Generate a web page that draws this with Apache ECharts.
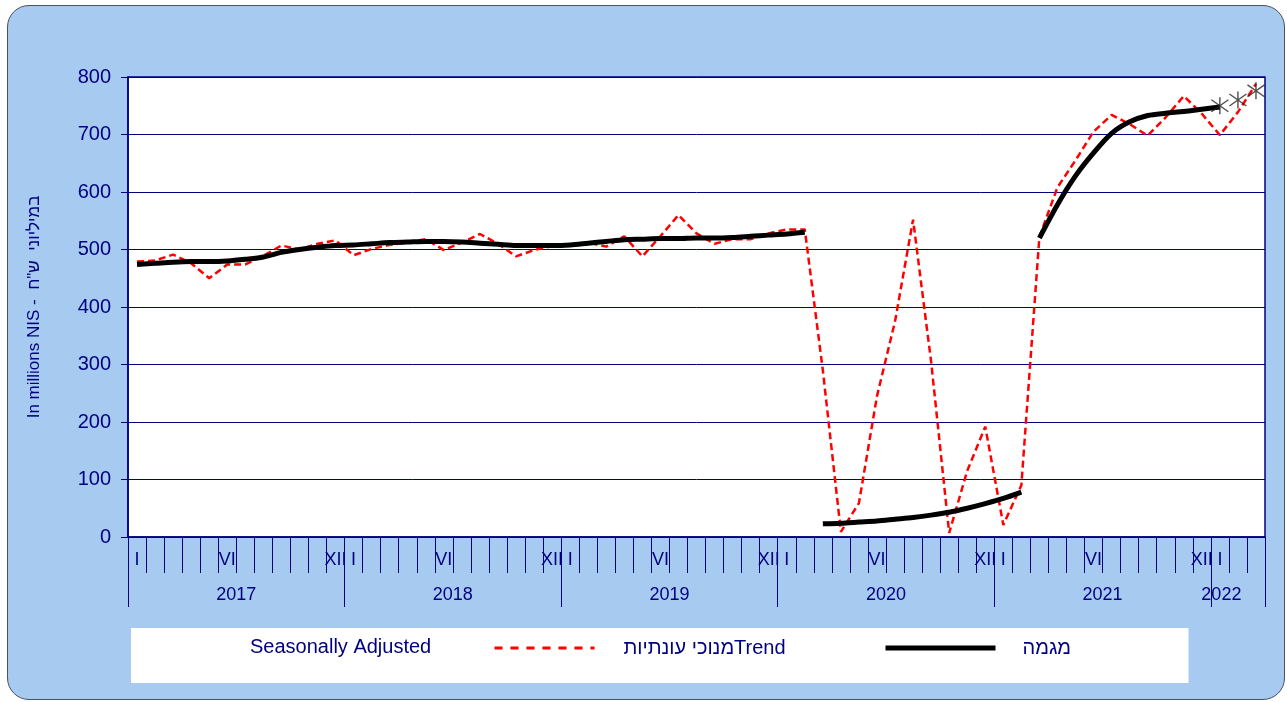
<!DOCTYPE html>
<html><head><meta charset="utf-8">
<script src="https://cdn.jsdelivr.net/npm/echarts@6/dist/echarts.min.js"></script>
<style>
html,body{margin:0;padding:0;width:1287px;height:702px;overflow:hidden;background:#fff;}
#frame{position:absolute;left:7px;top:5px;width:1278px;height:695px;box-sizing:border-box;border:1.5px solid #4a5260;border-radius:22px;background:#a6caf0;}
#chart{position:absolute;left:0;top:0;width:1287px;height:702px;}
</style></head><body>
<div id="frame"></div><div id="chart"></div>
<script>
// ---- data ----
const years = ['2017', '2018', '2019', '2020', '2021', '2022'];
const monthNumerals = ['I','II','III','IV','V','VI','VII','VIII','IX','X','XI','XII'];
const shownMonthNumerals = ['I', 'VI', 'XII'];
const monthsInLastYear = 3;

const seasonallyAdjusted = [
  479, 481, 491, 476, 450, 474, 474, 489, 507, 500, 510, 516,   // 2017
  490, 501, 508, 512, 518, 499, 512, 527, 510, 488, 499, 506,   // 2018
  508, 512, 505, 523, 488, 523, 560, 528, 510, 518, 518, 528,   // 2019
  535, 535, 290,   9,  59, 245, 375, 552, 305,   7, 115, 192,   // 2020
   21,  90, 522, 608, 655, 705, 734, 718, 698, 730, 767, 736,   // 2021
  699, 739, 788                                                  // 2022
];
// trend, in three unconnected pieces
const trendPart1Start = '2017-I';
const trendPart1 = [
  474, 476, 478, 479, 479, 480, 483, 487, 495, 500, 504, 507,
  508, 510, 512, 513, 514, 514, 513, 511, 509, 507, 507, 507,
  508, 511, 514, 517, 518, 519, 519, 520, 520, 521, 523, 525,
  527, 530
];
const trendPart2Start = '2020-III';
const trendPart2 = [23, 24, 26, 28, 31, 34, 38, 43, 50, 58, 67, 78];
const trendPart3Start = '2021-III';
const trendPart3 = [520, 578, 628, 668, 702, 722, 733, 737, 740, 744, 748];
const projectedStart = '2022-I';
const projected = [750, 760, 776];

const saName = 'מנוכי עונתיות Seasonally Adjusted';
const trendName = 'מגמה Trend';
const saLegendText = 'מנוכי עונתיותTrend';
const trendLegendText = 'מגמה';
const legendLeftText = 'Seasonally Adjusted';
const yAxisName = 'In millions NIS -  במיליוני  ש"ח';

// ---- build ----
const categories = [];
years.forEach((y, yi) => {
  const n = yi === years.length - 1 ? monthsInLastYear : 12;
  for (let m = 0; m < n; m++) categories.push(y + '-' + monthNumerals[m]);
});
function piece(start, vals) {
  const s = categories.indexOf(start);
  return vals.map((v, k) => [categories[s + k], v]);
}

const navy = '#000080';
const font = "'Liberation Sans', Arial, sans-serif";
const legendFont = 20;

const cvs = document.createElement('canvas').getContext('2d');
cvs.font = legendFont + "px 'Liberation Sans', Arial, sans-serif";
const saTextW = cvs.measureText(saLegendText).width;

const trendLine = { color: '#000', width: 5 };
const chart = echarts.init(document.getElementById('chart'), null, { renderer: 'canvas' });
chart.setOption({
  backgroundColor: 'transparent',
  animation: false,
  textStyle: { fontFamily: font },
  title: {
    text: legendLeftText, left: 250, top: 637, padding: 0,
    textStyle: { fontSize: legendFont, fontWeight: 'normal', color: navy, fontFamily: font }
  },
  legend: [
    {
      data: [saName], left: 131, top: 628, selectedMode: false,
      backgroundColor: '#fff',
      padding: [10, Math.max(0, 565 - saTextW), 25, 362],
      itemWidth: 100, itemHeight: 14,
      itemStyle: { opacity: 0 },
      lineStyle: { width: 3, type: [8, 8], color: '#ff0000' },
      formatter: () => '{t|' + saLegendText + '}',
      textStyle: { rich: { t: { fontSize: legendFont, color: navy, lineHeight: 20, padding: [0, 0, 0, 24], fontFamily: font } } }
    },
    {
      data: [trendName], left: 883, top: 628, selectedMode: false,
      padding: [10, 0, 25, 0],
      itemWidth: 110, itemHeight: 14,
      itemStyle: { opacity: 0 },
      lineStyle: { width: 5, color: '#000' },
      formatter: () => '{t|' + trendLegendText + '}',
      textStyle: { rich: { t: { fontSize: legendFont, color: navy, lineHeight: 20, padding: [0, 0, 0, 22], fontFamily: font } } }
    }
  ],
  grid: {
    left: 128, right: 22, top: 77, bottom: 165,
    show: true, backgroundColor: '#fff', borderColor: navy, borderWidth: 1.5
  },
  xAxis: [
    {
      type: 'category', data: categories, boundaryGap: true, position: 'bottom',
      axisLine: { show: true, lineStyle: { color: navy, width: 1.5 } },
      axisTick: { show: true, interval: 0, length: 36, lineStyle: { color: navy, width: 1 } },
      axisLabel: {
        interval: 0, margin: 14, color: navy, fontSize: 18, fontFamily: font,
        formatter: v => { const m = v.split('-')[1]; return shownMonthNumerals.includes(m) ? m : ''; }
      },
      splitLine: { show: false }
    },
    {
      type: 'category', data: categories, boundaryGap: true, position: 'bottom',
      axisLine: { show: false },
      axisTick: { show: true, interval: (i) => i % 12 === 0, length: 70, lineStyle: { color: navy, width: 1 } },
      axisLabel: {
        interval: 0, margin: 49, color: navy, fontSize: 18, fontFamily: font,
        formatter: v => {
          const [y, m] = v.split('-');
          if (m === 'VI') return '{a|' + y + '}';
          if (y === years[years.length - 1] && m === 'I') return '{b|' + y + '}';
          return '';
        },
        rich: {
          a: { fontSize: 18, color: navy, padding: [0, 0, 0, 18], fontFamily: font },
          b: { fontSize: 18, color: navy, padding: [0, 0, 0, 3], fontFamily: font }
        }
      },
      splitLine: { show: false }
    }
  ],
  yAxis: {
    type: 'value', min: 0, max: 800, interval: 100,
    name: yAxisName, nameLocation: 'middle', nameRotate: 90, nameGap: 85,
    nameTextStyle: { color: navy, fontSize: 17, fontFamily: font },
    axisLine: { show: true, lineStyle: { color: navy, width: 1.5 } },
    axisTick: { show: true, length: 7, lineStyle: { color: navy } },
    axisLabel: { color: navy, fontSize: 20, margin: 17, fontFamily: font },
    splitLine: { show: true, lineStyle: { color: navy, width: 1 } }
  },
  series: [
    {
      name: saName, type: 'line', data: seasonallyAdjusted, symbol: 'none', z: 3,
      lineStyle: { color: '#ff0000', width: 2.5, type: [7, 4] },
      itemStyle: { color: '#ff0000' }
    },
    { name: trendName, type: 'line', data: piece(trendPart1Start, trendPart1), symbol: 'none', smooth: 0.3, lineStyle: trendLine, itemStyle: { color: '#000' }, z: 4 },
    { name: trendName, type: 'line', data: piece(trendPart2Start, trendPart2), symbol: 'none', smooth: 0.3, lineStyle: trendLine, itemStyle: { color: '#000' }, z: 4 },
    { name: trendName, type: 'line', data: piece(trendPart3Start, trendPart3), symbol: 'none', smooth: 0.3, lineStyle: trendLine, itemStyle: { color: '#000' }, z: 4 },
    {
      name: 'projected', type: 'scatter', data: piece(projectedStart, projected), z: 5,
      symbol: 'path://M10,0L10,20M2,3L18,17M2,17L18,3', symbolSize: 17,
      itemStyle: { color: 'rgba(0,0,0,0)', borderColor: '#222', borderWidth: 1.4 }
    }
  ]
});
</script>
</body></html>
